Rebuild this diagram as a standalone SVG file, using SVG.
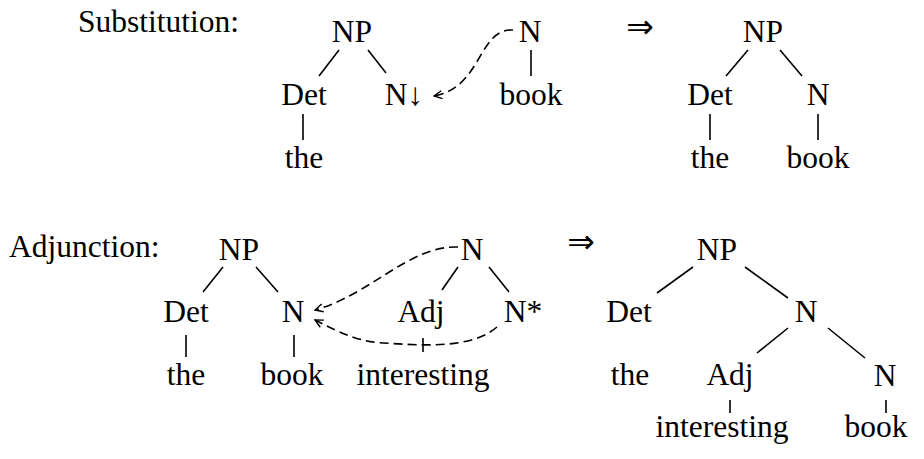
<svg xmlns="http://www.w3.org/2000/svg" width="924" height="459" viewBox="0 0 924 459">
<defs>
<style>
text{font-size:31.5px;fill:#000;text-anchor:middle}
.lbl{text-anchor:start}
.arr{font-family:"DejaVu Sans",sans-serif;font-size:33px}
.e{stroke:#000;stroke-width:1.6;fill:none}
.d{stroke:#000;stroke-width:1.6;fill:none;stroke-dasharray:9 5;marker-end:url(#ah)}
</style>
<marker id="ah" viewBox="0 0 10 10" refX="9" refY="5" markerWidth="10" markerHeight="10" markerUnits="userSpaceOnUse" orient="auto">
<path d="M1,1 L9,5 L1,9" fill="none" stroke="#000" stroke-width="1.4"/>
</marker>
</defs>
<rect width="924" height="459" fill="#fff"/>
<g font-family="'Liberation Serif', Tinos, 'Times New Roman', 'DejaVu Serif', serif">
<text class="lbl" x="78" y="32">Substitution:</text>
<text class="lbl" x="9" y="257">Adjunction:</text>
<text class="arr" x="640" y="38">⇒</text>
<text class="arr" x="581" y="253">⇒</text>

<g id="s-init">
<g id="s-np"><text x="352" y="42">NP</text></g>
<g id="s-det"><text x="304" y="105">Det</text></g>
<g id="s-ndown"><text x="404" y="105">N↓</text></g>
<g id="s-the"><text x="304" y="168">the</text></g>
</g>
<g id="s-aux">
<g id="s-n"><text x="530" y="42">N</text></g>
<g id="s-book"><text x="531" y="105">book</text></g>
</g>
<g id="s-res">
<g id="r-np"><text x="763" y="42">NP</text></g>
<g id="r-det"><text x="710" y="105">Det</text></g>
<g id="r-n"><text x="818" y="105">N</text></g>
<g id="r-the"><text x="710" y="168">the</text></g>
<g id="r-book"><text x="818" y="168">book</text></g>
</g>

<g id="a-init">
<g id="a-np"><text x="239" y="260">NP</text></g>
<g id="a-det"><text x="186" y="322">Det</text></g>
<g id="a-n"><text x="293" y="322">N</text></g>
<g id="a-the"><text x="186" y="385">the</text></g>
<g id="a-book"><text x="292" y="385">book</text></g>
</g>
<g id="a-aux">
<g id="a-n2"><text x="472" y="260">N</text></g>
<g id="a-adj"><text x="421" y="322">Adj</text></g>
<g id="a-nstar"><text x="523" y="322">N*</text></g>
<g id="a-interesting"><text x="423" y="385">interesting</text></g>
</g>
<g id="a-res">
<g id="b-np"><text x="717" y="260">NP</text></g>
<g id="b-det"><text x="629" y="322">Det</text></g>
<g id="b-n"><text x="806" y="322">N</text></g>
<g id="b-the"><text x="630" y="385">the</text></g>
<g id="b-adj"><text x="730" y="385">Adj</text></g>
<g id="b-n2"><text x="885" y="386">N</text></g>
<g id="b-interesting"><text x="722" y="437">interesting</text></g>
<g id="b-book"><text x="876" y="437">book</text></g>
</g>
</g>

<g id="connectors">
<path class="e" d="M339,50 L319,76 M368,50 L386,73 M303,114 L303,140 M531,50 L531,76"/>
<path class="e" d="M748,50 L726,76 M780,50 L802,76 M710,114 L710,140 M818,114 L818,140"/>
<path class="e" d="M223,267 L203,292 M256,267 L278,292 M186,335 L186,357 M294,335 L294,357"/>
<path class="e" d="M458,267 L442,290 M489,267 L509,292 M423,338 L423,352"/>
<path class="e" d="M693,267 L657,293 M745,267 L788,298 M788,328 L757,353 M828,328 L865,358 M730,400 L730,413 M886,400 L886,413"/>
<path class="d" d="M513,30 C478,28 482,88 434,96"/>
<path class="d" d="M458,247 C410,245 370,295 315,310"/>
<path class="d" d="M497,327 C470,350 420,345 383,343 C360,342 340,333 315,320"/>
</g>
</svg>
